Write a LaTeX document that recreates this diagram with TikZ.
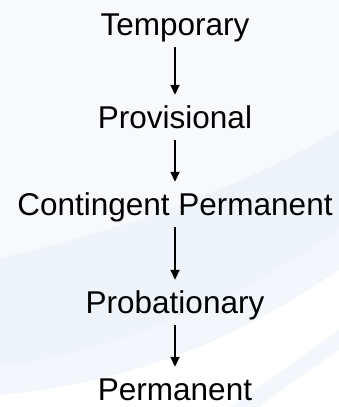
\documentclass[tikz,border=0pt]{standalone}
\usepackage{fontspec}
\setmainfont{Liberation Sans}
\usetikzlibrary{arrows.meta}
\definecolor{bgA}{HTML}{F7F9FC}
\definecolor{bgB}{HTML}{EFF3FA}
\definecolor{bgC}{HTML}{F3F6FB}
\begin{document}
\begin{tikzpicture}[x=1pt,y=-1pt,
  stage/.style={inner sep=0pt, text height=22pt, text depth=7pt, font=\fontsize{31.5}{36}\selectfont, anchor=base},
  flow/.style={line width=1.8pt, -{Triangle[width=9pt,length=10pt]}, shorten <=5pt, shorten >=11pt}]
\useasboundingbox (0,0) rectangle (339,407);
\fill[white] (0,0) rectangle (339,407);
% faint background swooshes
\fill[bgA] (0,258) .. controls (100,235) and (220,200) .. (339,130) -- (339,0) -- (200,0) .. controls (150,60) and (80,150) .. (0,258) -- cycle;
\fill[bgA] (0,0) -- (200,0) .. controls (150,60) and (80,150) .. (0,258) -- cycle;
\fill[bgB] (0,258) .. controls (100,235) and (220,200) .. (339,130) -- (339,230) .. controls (240,300) and (120,350) .. (0,367) -- cycle;
\fill[bgC] (0,367) .. controls (120,350) and (240,300) .. (339,230) -- (339,270) .. controls (250,330) and (150,380) .. (0,395) -- cycle;
\fill[bgC] (230,407) .. controls (270,380) and (310,350) .. (339,330) -- (339,350) .. controls (310,370) and (280,390) .. (260,407) -- cycle;
% stages
\node[stage] (t1) at (175,35) {Temporary};
\node[stage] (t2) at (175,128) {Provisional};
\node[stage] (t3) at (175,215) {Contingent Permanent};
\node[stage] (t4) at (175,313) {Probationary};
\node[stage, text depth=1pt] (t5) at (175,400) {Permanent};
\draw[flow] (t1) -- (t2);
\draw[flow] (t2) -- (t3);
\draw[flow] (t3) -- (t4);
\draw[flow] (t4) -- (t5);
\end{tikzpicture}
\end{document}
